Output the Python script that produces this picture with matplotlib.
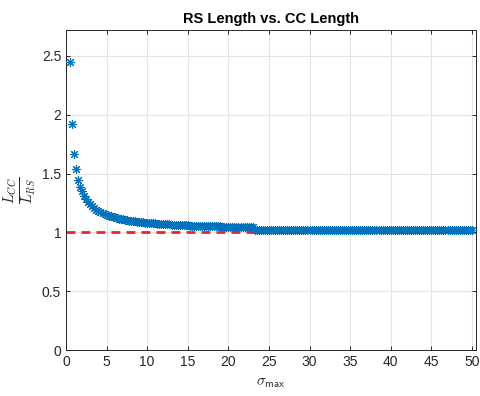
import numpy as np
import matplotlib
matplotlib.use("Agg")
import matplotlib.pyplot as plt

plt.rcParams['font.family'] = ['Liberation Sans', 'DejaVu Sans']
plt.rcParams['mathtext.fontset'] = 'cm'

# sigma_max grid (step 0.25) and the measured ratio L_CC / L_RS
sigma_max = np.arange(0.5, 50.01, 0.25)
ratio = [
  2.45, 1.92, 1.67, 1.535, 1.448, 1.39, 1.35, 1.313, 1.283, 1.259,
  1.238, 1.221, 1.206, 1.194, 1.182, 1.173, 1.164, 1.156, 1.149, 1.143,
  1.137, 1.132, 1.127, 1.122, 1.118, 1.114, 1.111, 1.107, 1.104, 1.101,
  1.099, 1.096, 1.094, 1.092, 1.089, 1.087, 1.086, 1.084, 1.082, 1.080,
  1.079, 1.077, 1.076, 1.075, 1.073, 1.072, 1.071, 1.070, 1.069, 1.068,
  1.067, 1.066, 1.065, 1.064, 1.063, 1.062, 1.061, 1.060, 1.060, 1.058,
  1.058, 1.057, 1.057, 1.056, 1.056, 1.055, 1.055, 1.054, 1.054, 1.053,
  1.053, 1.052, 1.052, 1.051, 1.051, 1.050, 1.050, 1.050, 1.049, 1.049,
  1.049, 1.048, 1.048, 1.048, 1.047, 1.047, 1.047, 1.046, 1.046, 1.046,
  1.045, 1.023, 1.023, 1.023, 1.023, 1.023, 1.022, 1.022, 1.022, 1.022,
  1.022, 1.022, 1.022, 1.022, 1.022, 1.022, 1.022, 1.022, 1.022, 1.022,
  1.022, 1.022, 1.022, 1.021, 1.021, 1.021, 1.021, 1.021, 1.021, 1.021,
  1.021, 1.021, 1.021, 1.021, 1.021, 1.021, 1.021, 1.021, 1.021, 1.018,
  1.018, 1.018, 1.018, 1.018, 1.018, 1.018, 1.018, 1.018, 1.018, 1.018,
  1.018, 1.018, 1.018, 1.018, 1.018, 1.018, 1.018, 1.018, 1.018, 1.018,
  1.018, 1.018, 1.018, 1.018, 1.018, 1.018, 1.018, 1.018, 1.018, 1.018,
  1.018, 1.018, 1.018, 1.018, 1.018, 1.018, 1.018, 1.018, 1.018, 1.018,
  1.018, 1.018, 1.018, 1.018, 1.018, 1.018, 1.018, 1.018, 1.018, 1.018,
  1.018, 1.018, 1.018, 1.018, 1.018, 1.018, 1.018, 1.018, 1.018, 1.018,
  1.018, 1.018, 1.018, 1.018, 1.018, 1.018, 1.018, 1.018, 1.018,
]
ref_x = [0, 50]
ref_y = [1, 1]

axcol = '#262626'

fig = plt.figure(figsize=(4.8, 3.96), dpi=100)
ax = fig.add_axes([0.1375, 0.116, 0.854, 0.808])

ax.plot(ref_x, ref_y, '--', color='#e8262e', linewidth=2, dashes=(3.2, 2.2), zorder=2)
ax.plot(sigma_max, ratio, linestyle='none', marker=(8, 2, 0), markersize=6.5,
        markeredgewidth=0.8, color='#0072BD', zorder=3)

ax.set_xlim(0, 50.5)
ax.set_ylim(0, 2.72)
ax.set_xticks(np.arange(0, 51, 5))
ax.set_yticks([0, 0.5, 1, 1.5, 2, 2.5])
ax.set_yticklabels(['0', '0.5', '1', '1.5', '2', '2.5'])
ax.grid(True, color='#e3e3e3', linewidth=0.8)
ax.set_axisbelow(True)

ax.tick_params(direction='in', length=3, width=0.7, colors=axcol, labelsize=10,
               top=True, right=True)
for s in ax.spines.values():
  s.set_color(axcol)
  s.set_linewidth(0.7)

ax.set_title('RS Length vs. CC Length', fontsize=10.5, fontweight='bold', pad=5)
ax.set_xlabel(r'$\sigma_{\mathsf{max}}$', fontsize=11, color=axcol, labelpad=5)
ax.set_ylabel(r'$\frac{L_{CC}}{L_{RS}}$', fontsize=15, color=axcol, labelpad=2)

fig.savefig('out.png', dpi=100)
